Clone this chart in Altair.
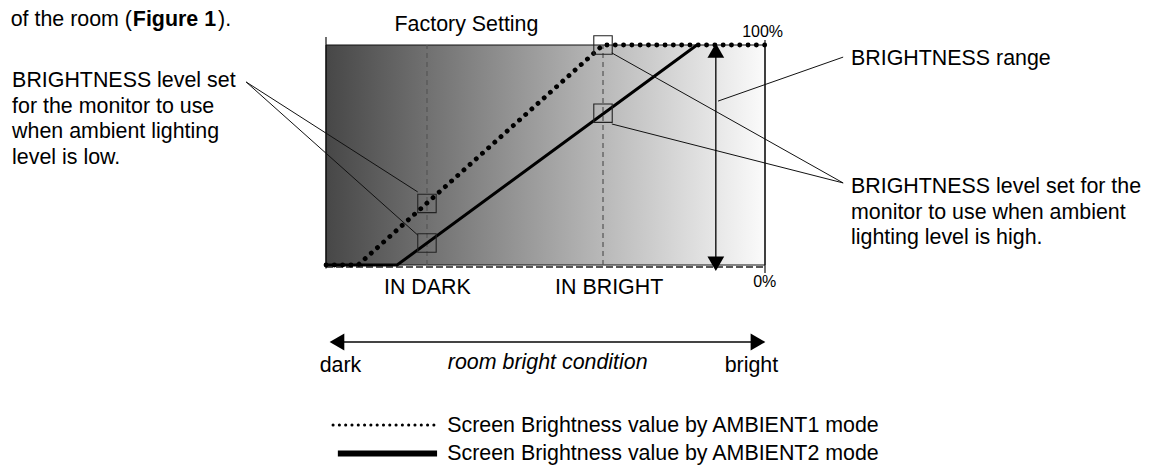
import altair as alt
import pandas as pd

FONT = "Liberation Sans, Arial, Helvetica, sans-serif"
FS = 21.4

# ---- curves (x: room brightness 0-100, y: screen brightness %) ----
amb1_x = [0, 7.3, 63.1, 100]
amb1_y = [0, 0, 100, 100]
amb2_x = [0, 16.2, 84.5]
amb2_y = [0, 0, 100]

# ---- reference positions ----
ref_names = ["IN DARK", "IN BRIGHT"]
ref_x = [23.0, 63.1]

# small marker boxes on the curves
box_x = [23.0, 23.0, 63.1, 63.1]
box_y = [28, 10, 100, 69]

# brightness-range double arrow
range_x = 88.8
range_lo = 0
range_hi = 100

# leader lines (from label to box)
lead_x = [-18.2, -18.2, 117.8, 117.8, 117.8]
lead_y = [83.2, 83.2, 37.3, 37.3, 94.5]
lead_x2 = [20.9, 20.9, 65.1, 65.1, 89.3]
lead_y2 = [33.2, 13.6, 96.4, 64.1, 74.5]

# center aligned labels
c_text = ["Factory Setting", "IN DARK", "IN BRIGHT", "dark", "bright"]
c_x = [32.0, 23.1, 64.5, 3.3, 96.9]
c_y = [106.4, -13.2, -13.2, -48.6, -48.6]

# left aligned (multi-line) labels
l_text = [
    "BRIGHTNESS level set\nfor the monitor to use\nwhen ambient lighting\nlevel is low.",
    "BRIGHTNESS range",
    "BRIGHTNESS level set for the\nmonitor to use when ambient\nlighting level is high.",
    "Screen Brightness value by AMBIENT1 mode",
    "Screen Brightness value by AMBIENT2 mode",
]
l_x = [-71.5, 119.6, 119.6, 27.6, 27.6]
l_y = [80.9, 90.9, 32.7, -75.9, -88.6]

pct_text = ["100%", "0%"]
pct_x = [94.8, 97.3]
pct_y = [103.6, -10.0]

# heading line from the page above
head_text = ["of the room (", "Figure 1", ")."]
head_x = [-44.2, -44.0, -24.6]
head_y = 108.8

xs = alt.Scale(domain=[0, 100], nice=False, zero=False)
ys = alt.Scale(domain=[0, 100], nice=False, zero=False)


def X(f="x"):
    return alt.X(f"{f}:Q", scale=xs, axis=None)


def Y(f="y"):
    return alt.Y(f"{f}:Q", scale=ys, axis=None)


# background gradient panel
panel = alt.Chart(pd.DataFrame({"x": [0], "x2": [100], "y": [0], "y2": [100]})).mark_rect(
    fill=alt.Gradient(
        gradient="linear",
        stops=[
            alt.GradientStop(color="#474747", offset=0),
            alt.GradientStop(color="#fbfbfb", offset=1),
        ],
        x1=0, x2=1, y1=0, y2=0,
    ),
    stroke="#111111",
    strokeWidth=1,
).encode(x=X(), x2="x2:Q", y=Y(), y2="y2:Q")

# side borders with small extensions
sides = alt.Chart(pd.DataFrame({"x": [0, 100], "y": [-1.6, -3.6], "y2": [103.6, 102.3]})).mark_rule(
    color="#111111", strokeWidth=1.2
).encode(x=X(), y=Y(), y2="y2:Q")

# dashed 0% line
zero_line = alt.Chart(pd.DataFrame({"x": [0], "x2": [100], "y": [0]})).mark_rule(
    color="#222222", strokeWidth=1.5, strokeDash=[7, 3], yOffset=2
).encode(x=X(), x2="x2:Q", y=Y())

# vertical dashed reference lines
refs = alt.Chart(pd.DataFrame({"x": ref_x, "y": [0] * 2, "y2": [100] * 2})).mark_rule(
    color="#555555", strokeWidth=1.2, strokeDash=[5, 4]
).encode(x=X(), y=Y(), y2="y2:Q")

# curves
amb1 = alt.Chart(pd.DataFrame({"x": amb1_x, "y": amb1_y})).mark_line(
    color="black", strokeWidth=4.8, strokeDash=[0.1, 8.2], strokeCap="round"
).encode(x=X(), y=Y())
amb2 = alt.Chart(pd.DataFrame({"x": amb2_x, "y": amb2_y})).mark_line(
    color="black", strokeWidth=3
).encode(x=X(), y=Y())

# marker boxes
boxes = alt.Chart(pd.DataFrame({"x": box_x, "y": box_y})).mark_point(
    shape="square", size=340, filled=False, color="#222222", strokeWidth=1.1, opacity=1
).encode(x=X(), y=Y())

# leader lines
leads = alt.Chart(
    pd.DataFrame({"x": lead_x, "y": lead_y, "x2": lead_x2, "y2": lead_y2})
).mark_rule(color="#111111", strokeWidth=1).encode(x=X(), y=Y(), x2="x2:Q", y2="y2:Q")

# range arrow
range_line = alt.Chart(pd.DataFrame({"x": [range_x], "y": [range_lo + 2], "y2": [range_hi - 2]})).mark_rule(
    color="black", strokeWidth=1.3
).encode(x=X(), y=Y(), y2="y2:Q")
range_heads = alt.Chart(
    pd.DataFrame({"x": [range_x, range_x], "y": [97.5, 0.6], "s": ["triangle-up", "triangle-down"]})
).mark_point(filled=True, size=280, color="black", opacity=1).encode(
    x=X(), y=Y(), shape=alt.Shape("s:N", scale=None, legend=None)
)

# room brightness arrow
room_line = alt.Chart(pd.DataFrame({"x": [3.5], "x2": [97.5], "y": [-35]})).mark_rule(
    color="#444444", strokeWidth=2
).encode(x=X(), x2="x2:Q", y=Y())
room_heads = alt.Chart(
    pd.DataFrame({"x": [2.5, 98.4], "y": [-35, -35], "s": ["triangle-left", "triangle-right"]})
).mark_point(filled=True, size=289, color="black", opacity=1).encode(
    x=X(), y=Y(), shape=alt.Shape("s:N", scale=None, legend=None)
)

# legend samples
leg1 = alt.Chart(pd.DataFrame({"x": [1.6, 25.3], "y": [-72.7, -72.7]})).mark_line(
    color="black", strokeWidth=3, strokeDash=[0.1, 6.2], strokeCap="round"
).encode(x=X(), y=Y())
leg2 = alt.Chart(pd.DataFrame({"x": [2.7, 25.3], "y": [-85.7, -85.7]})).mark_line(
    color="black", strokeWidth=6
).encode(x=X(), y=Y())

# texts
ctext = alt.Chart(pd.DataFrame({"x": c_x, "y": c_y, "t": c_text})).mark_text(
    font=FONT, fontSize=FS, align="center", baseline="alphabetic", color="black"
).encode(x=X(), y=Y(), text="t:N")
italic = alt.Chart(pd.DataFrame({"x": [50.5], "y": [-47.3], "t": ["room bright condition"]})).mark_text(
    font=FONT, fontSize=FS, fontStyle="italic", align="center", baseline="alphabetic", color="black"
).encode(x=X(), y=Y(), text="t:N")
ltext = alt.Chart(pd.DataFrame({"x": l_x, "y": l_y, "t": l_text})).mark_text(
    font=FONT, fontSize=FS, align="left", baseline="alphabetic", color="black",
    lineBreak="\n", lineHeight=25.5
).encode(x=X(), y=Y(), text="t:N")
pct = alt.Chart(pd.DataFrame({"x": pct_x, "y": pct_y, "t": pct_text})).mark_text(
    font=FONT, fontSize=16, align="left", baseline="alphabetic", color="black"
).encode(x=X(), y=Y(), text="t:N")

head_a = alt.Chart(pd.DataFrame({"x": [head_x[0]], "y": [head_y], "t": [head_text[0]]})).mark_text(
    font=FONT, fontSize=FS, align="right", baseline="alphabetic", color="black"
).encode(x=X(), y=Y(), text="t:N")
head_b = alt.Chart(pd.DataFrame({"x": [head_x[1]], "y": [head_y], "t": [head_text[1]]})).mark_text(
    font=FONT, fontSize=FS, fontWeight="bold", align="left", baseline="alphabetic", color="black"
).encode(x=X(), y=Y(), text="t:N")
head_c = alt.Chart(pd.DataFrame({"x": [head_x[2]], "y": [head_y], "t": [head_text[2]]})).mark_text(
    font=FONT, fontSize=FS, align="left", baseline="alphabetic", color="black"
).encode(x=X(), y=Y(), text="t:N")

chart = alt.layer(
    panel, refs, zero_line, sides, amb2, amb1, boxes, leads,
    range_line, range_heads, room_line, room_heads, leg1, leg2,
    ctext, italic, ltext, pct, head_a, head_b, head_c,
).properties(
    width=439,
    height=220,
    autosize=alt.AutoSizeParams(type="none"),
    padding={"left": 318, "top": 37, "right": 376, "bottom": 201},
    background="white",
).configure_view(stroke=None)

chart.save("out.html", embed_options={"renderer": "svg", "actions": False})
